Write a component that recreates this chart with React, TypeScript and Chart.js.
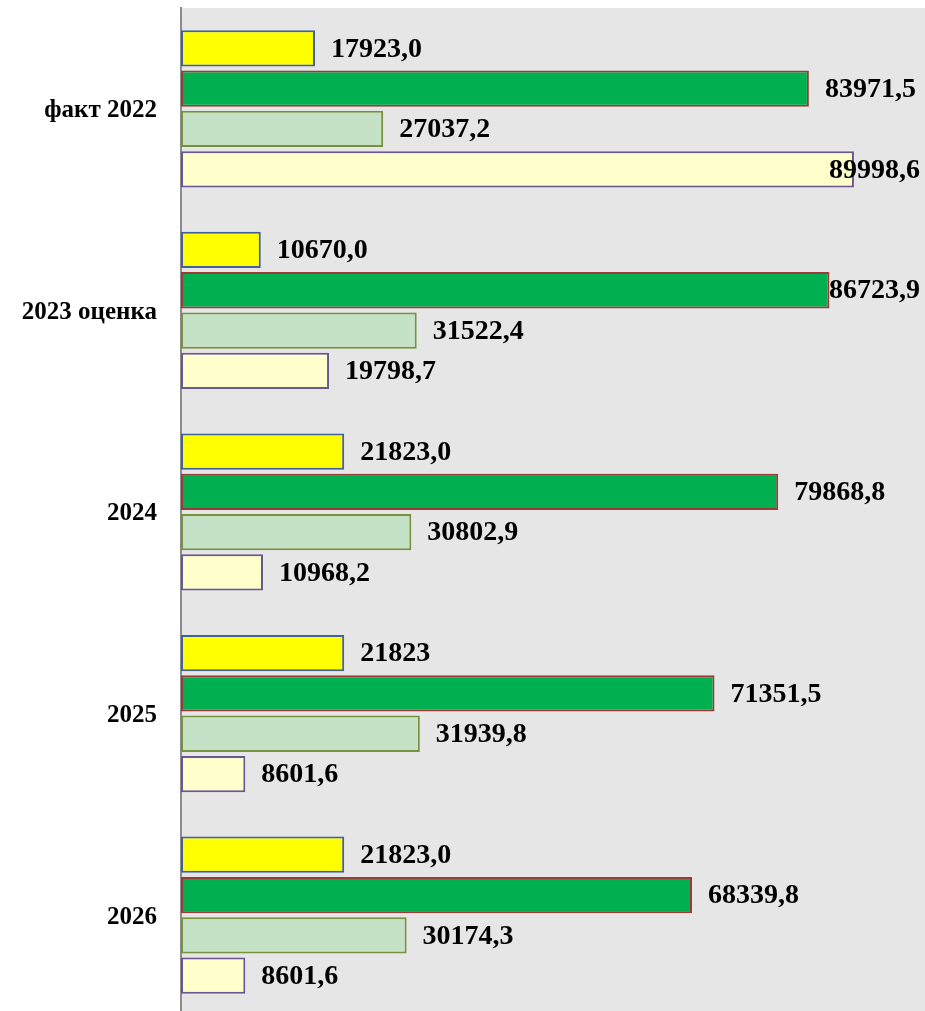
import React, { useEffect, useRef } from "react";
import { Chart, registerables } from "chart.js";

Chart.register(...registerables);

const categories = ["факт 2022", "2023 оценка", "2024", "2025", "2026"];

const series1 = [17923.0, 10670.0, 21823.0, 21823.0, 21823.0];
const series2 = [83971.5, 86723.9, 79868.8, 71351.5, 68339.8];
const series3 = [27037.2, 31522.4, 30802.9, 31939.8, 30174.3];
const series4 = [89998.6, 19798.7, 10968.2, 8601.6, 8601.6];

const labels1 = ["17923,0", "10670,0", "21823,0", "21823", "21823,0"];
const labels2 = ["83971,5", "86723,9", "79868,8", "71351,5", "68339,8"];
const labels3 = ["27037,2", "31522,4", "30802,9", "31939,8", "30174,3"];
const labels4 = ["89998,6", "19798,7", "10968,2", "8601,6", "8601,6"];

const valueLabels = [labels1, labels2, labels3, labels4];

const FONT = "'Liberation Serif', 'Times New Roman', serif";

const bgPlugin = {
  id: "plotBg",
  beforeDraw(chart: any) {
    const { ctx, chartArea } = chart;
    ctx.save();
    ctx.fillStyle = "#e6e6e6";
    ctx.fillRect(chartArea.left, chartArea.top, chartArea.right - chartArea.left, chartArea.bottom - chartArea.top);
    ctx.restore();
  },
};

const valuePlugin = {
  id: "valueLabels",
  afterDatasetsDraw(chart: any) {
    const { ctx, chartArea } = chart;
    ctx.save();
    ctx.font = `bold 28px ${FONT}`;
    ctx.fillStyle = "#000";
    ctx.textAlign = "left";
    ctx.textBaseline = "middle";
    chart.data.datasets.forEach((ds: any, di: number) => {
      const meta = chart.getDatasetMeta(di);
      meta.data.forEach((bar: any, i: number) => {
        const text = valueLabels[di][i];
        const w = ctx.measureText(text).width;
        let x = bar.x + 16;
        const limit = chartArea.right - 5 - w;
        if (x > limit) x = limit;
        ctx.fillText(text, x, bar.y + 1);
      });
    });
    ctx.restore();
  },
};

export default function App() {
  const ref = useRef<HTMLCanvasElement>(null);

  useEffect(() => {
    if (!ref.current) return;
    const chart = new Chart(ref.current, {
      type: "bar",
      data: {
        labels: categories,
        datasets: [
          { data: series1, backgroundColor: "#ffff00", borderColor: "#41609c", borderWidth: 2, borderSkipped: false },
          { data: series2, backgroundColor: "#00b050", borderColor: "#9a3b38", borderWidth: 2, borderSkipped: false },
          { data: series3, backgroundColor: "#c5e1c6", borderColor: "#76923c", borderWidth: 2, borderSkipped: false },
          { data: series4, backgroundColor: "#ffffcc", borderColor: "#6a5690", borderWidth: 2, borderSkipped: false },
        ],
      },
      options: {
        indexAxis: "y",
        animation: false,
        responsive: false,
        maintainAspectRatio: false,
        layout: { padding: { top: 8, left: 0, right: 0, bottom: 0 } },
        plugins: { legend: { display: false }, tooltip: { enabled: false } },
        scales: {
          x: {
            display: false,
            min: 0,
            max: 99500,
          },
          y: {
            afterFit(scale: any) {
              scale.width = 181;
              scale.paddingTop = 0;
              scale.paddingBottom = 0;
            },
            grid: { display: true, color: "rgba(0,0,0,0)", drawTicks: false },
            border: { display: true, color: "#8c8c8c", width: 2 },
            ticks: {
              color: "#000",
              padding: 24,
              labelOffset: 2,
              font: { family: FONT, size: 25, weight: "bold" },
            },
          },
        },
      },
      plugins: [bgPlugin, valuePlugin],
    });
    return () => chart.destroy();
  }, []);

  return (
    <div style={{ position: "absolute", left: 0, top: 0, width: 925, height: 1011, overflow: "hidden", background: "#fff" }}>
      <canvas ref={ref} width={925} height={1016} style={{ display: "block" }} />
    </div>
  );
}
